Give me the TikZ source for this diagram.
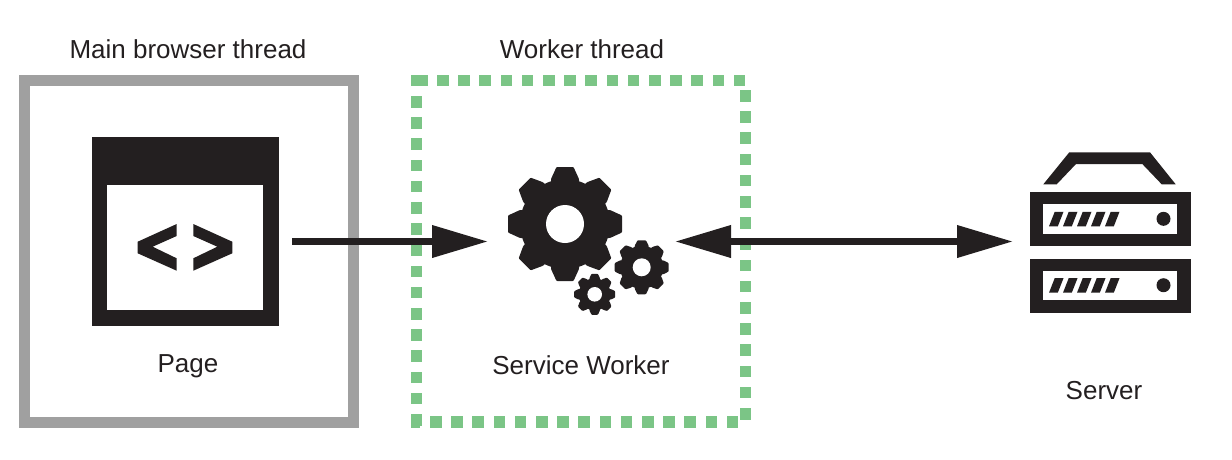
\documentclass[tikz,border=0pt]{standalone}
\usepackage{fontspec}
\setmainfont{Liberation Sans}
\usetikzlibrary{arrows.meta}
\definecolor{ink}{HTML}{231F20}
\definecolor{dotgreen}{HTML}{7BC586}
\definecolor{framegray}{HTML}{A0A0A0}
\tikzset{
  label text/.style={inner sep=0pt,anchor=base,text=ink,font=\fontsize{26}{30}\selectfont},
  link/.style={draw=ink,line width=7pt},
  bighead/.tip={Triangle[length=56pt,width=31pt,color=ink]},
  icon/.style={fill=ink,draw=none},
  hole/.style={fill=white,draw=none},
  greendot/.style={fill=dotgreen,draw=none}
}
% centre x, centre y, outer r, root r, hole r, tooth half-width tip, tooth half-width base
\newcommand{\gearicon}[7]{%
  \begin{scope}[shift={(#1,#2)}]
    \fill[icon] (0,0) circle[radius=#4];
    \foreach \a in {0,45,...,315}{
      \fill[icon,rotate=\a,rounded corners=0.8pt] (#4-3,-#7) -- (#4,-#7) -- (#3,-#6) -- (#3,#6) -- (#4,#7) -- (#4-3,#7) -- cycle;
    }
    \fill[hole] (0,0) circle[radius=#5];
  \end{scope}}
\newcommand{\servericon}[2]{% top y, height
  \fill[icon] (1029.5,#1) rectangle (1190.5,#1+#2);
  \fill[hole] (1042.5,#1+12) rectangle (1177,#1+41.5);
  \foreach \k in {0,...,4}{
    \fill[icon,shift={(14*\k,0)}] (1054.7,#1+19.5) -- (1063.5,#1+19.5) -- (1057.8,#1+34) -- (1049,#1+34) -- cycle;
  }
  \fill[icon] (1163.5,#1+26.5) circle[radius=7];}
\begin{document}
\begin{tikzpicture}[x=1pt,y=-1pt]
\useasboundingbox (0,0) rectangle (1232,459);
% main thread frame
\draw[framegray,line width=11pt] (24.5,80.5) rectangle (353.5,422.5);
% worker thread frame
\fill[greendot] (411,75) rectangle (428,86);
\foreach \k in {0,...,14}{
  \fill[greendot] ({437+21.2*\k},75) rectangle +(11.5,11);
  \fill[greendot] ({430+21.2*\k},416) rectangle +(11.5,12);
}
\foreach \k in {0,...,15}{
  \fill[greendot] (411,{96+21.2*\k}) rectangle +(11,11.5);
  \fill[greendot] (740,{90+21.2*\k}) rectangle +(11,11.5);
}
\fill[greendot] (411,420) rectangle (420,428);
% page icon
\fill[icon] (92,137) rectangle (279,326);
\fill[hole] (107,185) rectangle (263,310);
\fill[icon] (176.7,224) -- (176.7,236) -- (152.7,246.7) -- (176.7,258.3) -- (176.7,270.7) -- (137.7,253.3) -- (137.7,241.7) -- cycle;
\fill[icon] (193.3,224) -- (232.3,241.7) -- (232.3,253.3) -- (193.3,270.7) -- (193.3,258.3) -- (217.3,246.7) -- (193.3,236) -- cycle;
% gears
\gearicon{565}{224}{57}{45}{19}{8.5}{14}
\gearicon{641.7}{267.3}{27}{21.5}{9}{4.2}{7}
\gearicon{594.7}{294.3}{20.5}{16}{7.3}{3.2}{5.3}
% server icon
\fill[icon] (1043.3,184.3) -- (1069.3,152.3) -- (1150,152.3) -- (1175.7,184.3) -- (1161.7,184.3) -- (1142.3,164) -- (1076,164) -- (1056.7,184.3) -- cycle;
\servericon{192.3}{53.7}
\servericon{258.7}{54}
% labels
\node[label text] (mainlabel) at (188,58) {Main browser thread};
\node[label text] (workerlabel) at (582,58) {Worker thread};
\node[label text] (pagelabel) at (188,372) {Page};
\node[label text] (swlabel) at (581,374) {Service Worker};
\node[label text] (serverlabel) at (1104,399) {Server};
% connectors
\coordinate (pageout) at (292,241.5);
\coordinate (swleft) at (488,241.5);
\coordinate (swright) at (675,241.5);
\coordinate (serverin) at (1013,241.5);
\draw[link,-{bighead}] (pageout) -- (swleft);
\draw[link,{bighead}-{bighead}] (swright) -- (serverin);
\end{tikzpicture}
\end{document}
